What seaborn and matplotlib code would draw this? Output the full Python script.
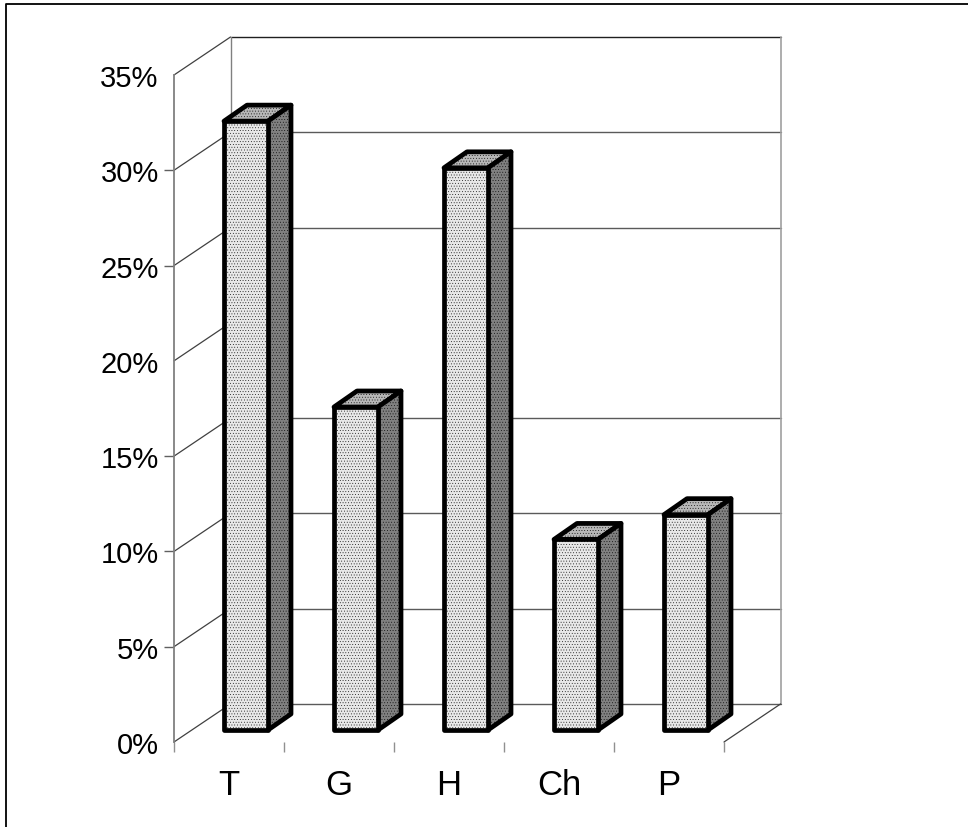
import pandas as pd
import matplotlib
matplotlib.use('Agg')
import matplotlib.pyplot as plt
from matplotlib.lines import Line2D
from matplotlib.patches import Polygon
from matplotlib.transforms import ScaledTranslation
import seaborn as sns

categories = ['T', 'G', 'H', 'Ch', 'P']
shares = [31.95, 16.95, 29.5, 10.0, 11.3]
y_ticks = [0, 5, 10, 15, 20, 25, 30, 35]
y_labels = ['0%', '5%', '10%', '15%', '20%', '25%', '30%', '35%']
# the 20% line is missing from the back wall in the original
wall_lines = [5, 10, 15, 25, 30, 35]
no_tick_mark = [0, 20, 35]

sns.set_theme(style='white')
plt.rcParams['font.family'] = ['Liberation Sans', 'DejaVu Sans']
plt.rcParams['hatch.linewidth'] = 0.25

DPI = 100
W, H = 968, 828
fig = plt.figure(figsize=(W / DPI, H / DPI), dpi=DPI, facecolor='white')
ax = fig.add_axes([174 / W, (H - 743) / H, 550 / W, 667 / H])


def shifted(dx, dy):
    # pixel offset on top of data coordinates, for the fake 3d depth
    return ax.transData + ScaledTranslation(dx / DPI, dy / DPI, fig.dpi_scale_trans)


df = pd.DataFrame({'cat': categories, 'share': shares})
sns.barplot(data=df, x='cat', y='share', ax=ax, color='#e8e8e8', saturation=1,
            width=0.4, edgecolor='black', linewidth=3.4, zorder=5)
ax.set_xlim(-0.5, 4.5)
ax.set_ylim(0, 35)
ax.set_xlabel('')
ax.set_ylabel('')
ax.patch.set_alpha(0)
sns.despine(ax=ax, top=True, right=True, bottom=True)
ax.spines['left'].set_color('#808080')
ax.spines['left'].set_linewidth(1.3)

# back wall and floor
back = shifted(56.5, 38)
for v in wall_lines:
    ax.plot([-0.5, 4.5], [v, v], color='#202020' if v == 35 else '#5a5a5a', lw=1.0,
            transform=back, clip_on=False, zorder=1)
ax.plot([-0.5, -0.5], [0, 35], color='#808080', lw=1.0, transform=back, clip_on=False, zorder=1)
ax.plot([4.5, 4.5], [0, 35], color='#a0a0a0', lw=1.2, transform=back, clip_on=False, zorder=1)
ax.plot([-0.5, 4.5], [0, 0], color='#5a5a5a', lw=1.0, transform=back, clip_on=False, zorder=1)

# diagonals on the left wall, one per tick, plus the right floor edge
for v in y_ticks:
    a = ax.transData.transform((-0.5, v))
    b = back.transform((-0.5, v))
    ax.add_line(Line2D([a[0], b[0]], [a[1], b[1]], color='#404040', lw=0.9,
                       transform=None, zorder=1, clip_on=False))
a = ax.transData.transform((4.5, 0))
b = back.transform((4.5, 0))
ax.add_line(Line2D([a[0], b[0]], [a[1], b[1]], color='#404040', lw=0.9,
                   transform=None, zorder=1, clip_on=False))

# bars sit a little inside the floor, then get side and top faces
bar_shift = shifted(17, 12)
depth_x, depth_y = 23, 16
for bar in list(ax.patches):
    x0, x1 = bar.get_x(), bar.get_x() + bar.get_width()
    top = bar.get_height()
    bar.set_transform(bar_shift)
    bar.set_clip_on(False)
    bar.set_hatch('......')
    bar.set_joinstyle('round')
    p00 = bar_shift.transform((x0, top))
    p10 = bar_shift.transform((x1, top))
    p1b = bar_shift.transform((x1, 0))
    off = (depth_x, depth_y)
    top_face = [p00, p10, p10 + off, p00 + off]
    side_face = [p10, p1b, p1b + off, p10 + off]
    for pts, col in [(top_face, '#b8b8b8'), (side_face, '#808080')]:
        ax.add_patch(Polygon(pts, closed=True, transform=None, facecolor=col, edgecolor='black',
                             linewidth=3.4, hatch='......', joinstyle='round', clip_on=False, zorder=4))

ax.set_yticks(y_ticks, y_labels)
ax.set_xticks([0, 1, 2, 3, 4], categories)
ax.set_xticks([-0.5, 0.5, 1.5, 2.5, 3.5, 4.5], minor=True)
ax.tick_params(axis='y', left=True, length=7, width=1.0, color='#606060', pad=4,
               labelsize=21, labelcolor='black')
ax.tick_params(axis='x', which='major', bottom=False, pad=13, labelsize=25, labelcolor='black')
ax.tick_params(axis='x', which='minor', bottom=True, length=7, width=1.0, color='#909090')
for v, tick in zip(y_ticks, ax.yaxis.get_major_ticks()):
    if v in no_tick_mark:
        tick.tick1line.set_visible(False)

# picture border, only top and left survive in the scan
fig.add_artist(Line2D([6 / W, 6 / W, 1], [0, 1 - 5 / H, 1 - 5 / H], color='black', lw=1.3,
                      transform=fig.transFigure))

fig.savefig('out.png', dpi=DPI)
